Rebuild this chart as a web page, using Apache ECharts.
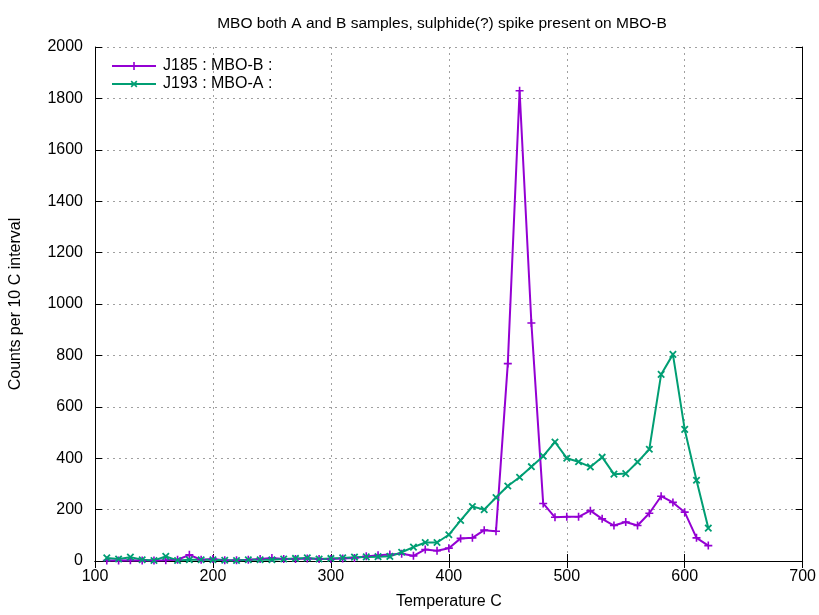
<!DOCTYPE html>
<html>
<head>
<meta charset="utf-8">
<script src="https://cdn.jsdelivr.net/npm/echarts@6/dist/echarts.min.js"></script>
<style>html,body{margin:0;padding:0;background:#fff}#c{width:819px;height:615px}</style>
</head>
<body>
<div id="c"></div>
<script>
const temps = [110,120,130,140,150,160,170,180,190,200,210,220,230,240,250,260,270,280,290,300,310,320,330,340,350,360,370,380,390,400,410,420,430,440,450,460,470,480,490,500,510,520,530,540,550,560,570,580,590,600,610,620];
const j185 = [2,2,3,2,2,3,5,24,5,8,3,3,5,8,12,8,8,10,8,8,10,12,18,22,25,28,20,45,40,50,88,90,120,116,768,1830,926,224,170,172,172,196,164,138,152,138,186,252,228,190,90,60];
const j193 = [12,8,15,5,2,18,2,5,5,5,3,2,5,5,5,8,10,12,8,10,12,15,16,17,18,34,54,72,72,102,158,212,200,247,292,326,367,408,463,400,386,366,404,338,340,385,435,726,804,512,314,128];
const seriesNames = ['J185 : MBO-B :', 'J193 : MBO-A :'];
const titleText = 'MBO both A and B samples, sulphide(?) spike present on MBO-B';

const plusPath = 'path://M-1,-0.2 L1,-0.2 L1,0.2 L-1,0.2 Z M-0.2,-1 L0.2,-1 L0.2,1 L-0.2,1 Z';
const font = 'Liberation Sans, Arial, sans-serif';
const chart = echarts.init(document.getElementById('c'), null, {renderer: 'canvas'});
const gridLine = {show: true, lineStyle: {color: '#a0a0a0', type: [2, 4], width: 1}};
const axisLine = {show: true, lineStyle: {color: '#000', width: 1}};
const tick = {show: true, inside: true, length: 7, lineStyle: {color: '#000'}};
chart.setOption({
  animation: false,
  backgroundColor: '#fff',
  title: {text: titleText, left: 437, top: 11, textAlign: 'center',
    textStyle: {fontFamily: font, fontSize: 15.5, fontWeight: 'normal', color: '#000'}},
  legend: {orient: 'vertical', left: 106, top: 53, itemWidth: 44, itemHeight: 10, itemGap: 2,
    data: seriesNames,
    textStyle: {fontFamily: font, fontSize: 16, lineHeight: 15, color: '#000', padding: [0, 0, 0, 2]}},
  grid: {left: 95, right: 16, top: 47, bottom: 52, containLabel: false},
  xAxis: [
    {type: 'value', min: 100, max: 700, interval: 100, position: 'bottom',
      name: 'Temperature C', nameLocation: 'middle', nameGap: 33,
      nameTextStyle: {fontFamily: font, fontSize: 16, color: '#000'},
      axisLine: axisLine, axisTick: tick,
      axisLabel: {fontFamily: font, fontSize: 16, color: '#000', margin: 8},
      splitLine: gridLine},
    {type: 'value', min: 100, max: 700, interval: 100, position: 'top',
      axisLine: axisLine, axisTick: tick,
      axisLabel: {show: false}, splitLine: {show: false}}
  ],
  yAxis: [
    {type: 'value', min: 0, max: 2000, interval: 200, position: 'left',
      name: 'Counts per 10 C interval', nameLocation: 'middle', nameGap: 71, nameRotate: 90,
      nameTextStyle: {fontFamily: font, fontSize: 16, color: '#000'},
      axisLine: axisLine, axisTick: tick,
      axisLabel: {fontFamily: font, fontSize: 16, color: '#000', margin: 12, formatter: v => String(v)},
      splitLine: gridLine},
    {type: 'value', min: 0, max: 2000, interval: 200, position: 'right',
      axisLine: axisLine, axisTick: tick,
      axisLabel: {show: false}, splitLine: {show: false}}
  ],
  series: [
    {name: seriesNames[0], type: 'line', xAxisIndex: 0, yAxisIndex: 0,
      data: temps.map((t, i) => [t, j185[i]]),
      symbol: plusPath, symbolSize: 8, showAllSymbol: true,
      lineStyle: {color: '#9400d3', width: 2}, itemStyle: {color: '#9400d3'}},
    {name: seriesNames[1], type: 'line', xAxisIndex: 0, yAxisIndex: 0,
      data: temps.map((t, i) => [t, j193[i]]),
      symbol: plusPath, symbolRotate: 45, symbolSize: 9, showAllSymbol: true,
      lineStyle: {color: '#009e73', width: 2}, itemStyle: {color: '#009e73'}}
  ]
});
</script>
</body>
</html>
